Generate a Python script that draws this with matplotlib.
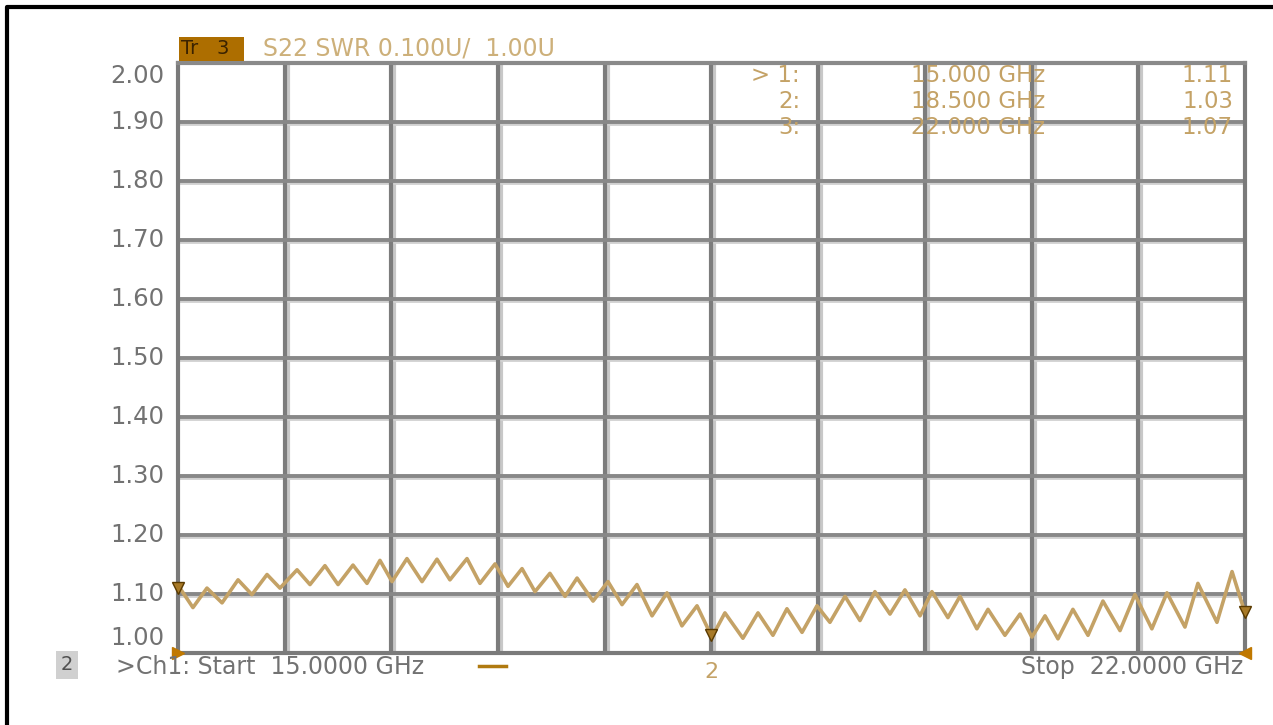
import matplotlib.pyplot as plt
import matplotlib.transforms as mtransforms

# trace: peaks and troughs of S22 SWR (GHz, SWR)
freq_ghz = [15.000, 15.098, 15.190, 15.289, 15.394, 15.485, 15.584, 15.669,
            15.781, 15.866, 15.964, 16.050, 16.148, 16.240, 16.325, 16.404,
            16.502, 16.601, 16.699, 16.784, 16.896, 16.981, 17.080, 17.165,
            17.257, 17.342, 17.440, 17.539, 17.618, 17.723, 17.821, 17.913,
            18.011, 18.110, 18.208, 18.306, 18.405, 18.503, 18.588, 18.706,
            18.805, 18.903, 18.995, 19.094, 19.192, 19.277, 19.376, 19.474,
            19.572, 19.671, 19.769, 19.868, 19.946, 20.051, 20.130, 20.241,
            20.314, 20.425, 20.524, 20.602, 20.688, 20.773, 20.871, 20.970,
            21.068, 21.180, 21.278, 21.389, 21.488, 21.606, 21.691, 21.816,
            21.915, 22.000]
swr = [1.115, 1.077, 1.110, 1.085, 1.124, 1.099, 1.133, 1.110,
       1.141, 1.116, 1.148, 1.116, 1.149, 1.118, 1.157, 1.121,
       1.160, 1.121, 1.159, 1.124, 1.160, 1.118, 1.151, 1.113,
       1.143, 1.104, 1.135, 1.096, 1.127, 1.088, 1.121, 1.082,
       1.116, 1.063, 1.102, 1.046, 1.080, 1.027, 1.068, 1.025,
       1.068, 1.030, 1.075, 1.035, 1.080, 1.052, 1.096, 1.055,
       1.104, 1.066, 1.107, 1.063, 1.104, 1.060, 1.096, 1.041,
       1.074, 1.030, 1.066, 1.027, 1.063, 1.024, 1.074, 1.030,
       1.088, 1.038, 1.099, 1.041, 1.102, 1.044, 1.118, 1.052,
       1.138, 1.068]

marker_freqs = [15.0, 18.5, 22.0]
marker_vals = [1.11, 1.03, 1.07]

y_ticks = [1.00, 1.10, 1.20, 1.30, 1.40, 1.50, 1.60, 1.70, 1.80, 1.90, 2.00]
x_start, x_stop, x_div = 15.0, 22.0, 10

tan = '#c4a266'
dark_tan = '#a87a28'
grey = '#727272'

fig = plt.figure(figsize=(12.73, 7.25), dpi=100)
ax = fig.add_axes([178 / 1273, 1 - 653 / 725, 1067 / 1273, 590 / 725])
ax.set_xlim(x_start, x_stop)
ax.set_ylim(1.0, 2.0)

# graticule: dark line with a light gray band beside it
step = (x_stop - x_start) / x_div
px = (x_stop - x_start) / 1067
for i in range(1, x_div):
    xv = x_start + i * step
    ax.axvline(xv + 3 * px, color='#c8c8c8', lw=3, zorder=1)
    ax.axvline(xv, color='#7c7c7c', lw=3, zorder=1.5)
for yv in y_ticks[1:-1]:
    ax.axhline(yv - 0.004, color='#d0d0d0', lw=2, zorder=1)
    ax.axhline(yv, color='#888888', lw=2.8, zorder=1.5)

for side in ['left', 'right', 'top', 'bottom']:
    ax.spines[side].set_color('#7a7a7a')
    ax.spines[side].set_linewidth(3)
ax.spines['top'].set_color('#8a8a8a')
ax.set_xticks([])
ax.set_yticks([])

ax.plot(freq_ghz, swr, color=tan, lw=2.6, zorder=3, solid_joinstyle='round')

# markers
for f, v in zip(marker_freqs, marker_vals):
    ax.plot([f], [v], marker='v', ms=8, color=dark_tan, mec='#5a3a00',
            zorder=4, clip_on=False)
ax.text(18.5, 0.985, '2', color=tan, fontsize=16, ha='center', va='top',
        clip_on=False)
ax.plot([x_start], [1.0], marker='>', ms=9, color='#c07800', clip_on=False, zorder=5)
ax.plot([x_stop], [1.0], marker='<', ms=9, color='#c07800', clip_on=False, zorder=5)

# y labels, first and last pulled inside the grid
trans = mtransforms.blended_transform_factory(fig.transFigure, ax.transData)
for yv in y_ticks:
    yy = yv
    if yv == 2.00:
        yy = 1.978
    elif yv == 1.00:
        yy = 1.025
    ax.text(164 / 1273, yy, '%.2f' % yv, transform=trans, ha='right',
            va='center', color=grey, fontsize=17.5)

# header
fig.text(181 / 1273, 1 - 49 / 725, 'Tr   3  ', fontsize=14, color='#3a2200',
         va='center', ha='left',
         bbox=dict(boxstyle='square,pad=0.12', fc='#ad6e00', ec='none'))
fig.text(263 / 1273, 1 - 49 / 725, 'S22 SWR 0.100U/  1.00U', fontsize=17,
         color='#cdb07a', va='center', ha='left')

# marker table
rows_y = [76, 102, 128]
labels = ['> 1:', '2:', '3:']
for lab, y, f, v in zip(labels, rows_y, marker_freqs, marker_vals):
    fig.text(800 / 1273, 1 - y / 725, lab, fontsize=16.5, color=tan,
             ha='right', va='center')
    fig.text(1045 / 1273, 1 - y / 725, '%.3f GHz' % f, fontsize=16.5,
             color=tan, ha='right', va='center')
    fig.text(1233 / 1273, 1 - y / 725, '%.2f' % v, fontsize=16.5, color=tan,
             ha='right', va='center')

# footer
fig.text(67 / 1273, 1 - 665 / 725, '2', fontsize=14, color='#505050',
         ha='center', va='center',
         bbox=dict(boxstyle='square,pad=0.25', fc='#d0d0d0', ec='none'))
fig.text(116 / 1273, 1 - 667 / 725, '>Ch1: Start  %.4f GHz' % x_start,
         fontsize=17, color=grey, ha='left', va='center')
fig.lines.append(plt.Line2D([479 / 1273, 506 / 1273], [1 - 666 / 725] * 2,
                            transform=fig.transFigure, color='#b07a10', lw=2.5))
fig.text(1243 / 1273, 1 - 667 / 725, 'Stop  %.4f GHz' % x_stop,
         fontsize=17, color=grey, ha='right', va='center')

# outer frame of the screenshot
fig.lines.append(plt.Line2D([7 / 1273, 7 / 1273, 1.0], [0.0, 1 - 7 / 725, 1 - 7 / 725],
                            transform=fig.transFigure, color='black', lw=3))

fig.savefig('out.png', dpi=100, facecolor='white')
